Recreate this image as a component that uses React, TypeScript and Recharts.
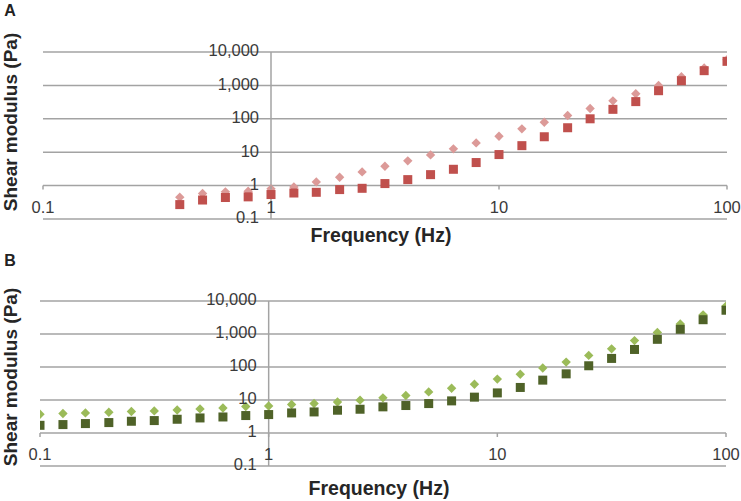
import { ScatterChart, Scatter, XAxis, YAxis, CartesianGrid, ReferenceLine } from "recharts";

// frequency (Hz)
const freqA = [0.398, 0.501, 0.631, 0.794, 1, 1.26, 1.58, 2, 2.51, 3.16, 3.98, 5.01, 6.31, 7.94, 10, 12.6, 15.8, 20, 25.1, 31.6, 39.8, 50.1, 63.1, 79.4, 100];
const freqB = [0.1, 0.126, 0.158, 0.2, 0.251, 0.316, 0.398, 0.501, 0.631, 0.794, 1, 1.26, 1.58, 2, 2.51, 3.16, 3.98, 5.01, 6.31, 7.94, 10, 12.6, 15.8, 20, 25.1, 31.6, 39.8, 50.1, 63.1, 79.4, 100];

// shear modulus (Pa), squares and diamonds
const squaresA = [0.27, 0.37, 0.44, 0.46, 0.54, 0.6, 0.63, 0.76, 0.83, 1.15, 1.51, 2.13, 3.08, 4.9, 8.5, 15.7, 29, 54, 100, 192, 327, 694, 1380, 2760, 5250];
const diamondsA = [0.45, 0.58, 0.65, 0.68, 0.8, 0.91, 1.29, 1.77, 2.57, 3.8, 5.5, 8.3, 12.6, 19, 30, 50, 79, 125, 203, 345, 565, 1000, 1820, 3330, 5900];
const squaresB = [1.71, 1.8, 1.93, 2.07, 2.27, 2.38, 2.61, 2.86, 3.06, 3.38, 3.62, 4.06, 4.35, 4.9, 5.25, 6.2, 6.8, 7.8, 9.4, 12.2, 16.4, 24, 40, 62, 109, 182, 340, 690, 1390, 2710, 5250];
const diamondsB = [3.7, 3.9, 4.06, 4.26, 4.47, 4.67, 5.0, 5.37, 5.75, 6.35, 6.6, 7.3, 7.8, 8.7, 9.9, 11.6, 13.7, 17.6, 22.8, 30, 43, 60, 93, 141, 225, 355, 630, 1120, 2000, 3800, 7000];

const xTicks = [0.1, 1, 10, 100];
const yTicks = [0.1, 1, 10, 100, 1000, 10000];
const xLabels = ["0.1", "1", "10", "100"];
const yLabels = ["0.1", "1", "10", "100", "1,000", "10,000"];

const FONT = "'Liberation Sans', Arial, sans-serif";
const GRID = "#a3a3a3";
const TEXT = "#3a3a3a";

const Square = (props: any) => {
  const { cx, cy, fill } = props;
  return <rect x={cx - 4.5} y={cy - 4.5} width={9} height={9} fill={fill} />;
};

const Diamond = (props: any) => {
  const { cx, cy, fill } = props;
  const r = 4.7;
  return <polygon points={`${cx},${cy - r} ${cx + r},${cy} ${cx},${cy + r} ${cx - r},${cy}`} fill={fill} />;
};

type PanelProps = {
  letter: string;
  top: number;
  height: number;
  margin: { top: number; right: number; bottom: number; left: number };
  xTitleY: number;
  yTitleY: number;
  freq: number[];
  squares: number[];
  diamonds: number[];
  squareColor: string;
  diamondColor: string;
};

function Panel({ letter, top, height, margin, xTitleY, yTitleY, freq, squares, diamonds, squareColor, diamondColor }: PanelProps) {
  const width = 741;
  // axes take 1px each
  const plotW = width - margin.left - margin.right - 1;
  const plotH = height - margin.top - margin.bottom - 1;
  const decY = plotH / (yTicks.length - 1);
  const decX = plotW / (xTicks.length - 1);
  const sq = freq.map((f, i) => ({ f, v: squares[i] }));
  const dm = freq.map((f, i) => ({ f, v: diamonds[i] }));

  // x-axis crosses at y = 1, one decade above the bottom of the plot
  const xTick = (p: any) => {
    const i = xTicks.indexOf(p.payload.value);
    const ay = margin.top + plotH - decY;
    return (
      <g>
        <line x1={p.x} x2={p.x} y1={ay} y2={ay + 4} stroke={GRID} strokeWidth={1.5} />
        <text x={p.x} y={ay + 23} textAnchor="middle" dominantBaseline="middle" fontSize={16.5} fill={TEXT} fontFamily={FONT}>
          {xLabels[i]}
        </text>
      </g>
    );
  };
  // y-axis crosses at x = 1, one decade right of the plot's left edge
  const yTick = (p: any) => {
    const i = yTicks.indexOf(p.payload.value);
    const ax = margin.left + 1 + decX;
    return (
      <text x={ax - 12} y={p.y} textAnchor="end" dominantBaseline="middle" fontSize={16.5} fill={TEXT} fontFamily={FONT}>
        {yLabels[i]}
      </text>
    );
  };

  return (
    <div style={{ position: "absolute", left: 0, top, width, height }}>
      <ScatterChart width={width} height={height} margin={margin}>
        <CartesianGrid horizontal vertical={false} stroke={GRID} strokeWidth={1.5} />
        <XAxis
          dataKey="f"
          type="number"
          scale="log"
          domain={[0.1, 100]}
          ticks={xTicks}
          allowDataOverflow
          height={1}
          axisLine={false}
          tickLine={false}
          tickSize={0}
          tickMargin={0}
          interval={0}
          tick={xTick}
        />
        <YAxis
          dataKey="v"
          type="number"
          scale="log"
          domain={[0.1, 10000]}
          ticks={yTicks}
          allowDataOverflow
          width={1}
          axisLine={false}
          tickLine={false}
          tickSize={0}
          tickMargin={0}
          interval={0}
          tick={yTick}
        />
        <ReferenceLine x={1} stroke={GRID} strokeWidth={1.5} />
        <Scatter data={dm} fill={diamondColor} shape={Diamond} isAnimationActive={false} />
        <Scatter data={sq} fill={squareColor} shape={Square} isAnimationActive={false} />
      </ScatterChart>
      <div style={{ position: "absolute", left: 10, top: 11, transform: "translate(-50%,-50%)", fontFamily: FONT, fontWeight: "bold", fontSize: 16, lineHeight: 1, color: "#222" }}>
        {letter}
      </div>
      <div style={{ position: "absolute", left: 10, top: yTitleY, transform: "translate(-50%,-50%) rotate(-90deg)", whiteSpace: "nowrap", fontFamily: FONT, fontWeight: "bold", fontSize: 19, lineHeight: 1, color: "#262626" }}>
        Shear modulus (Pa)
      </div>
      <div style={{ position: "absolute", left: margin.left + plotW / 2 - 3, top: xTitleY, transform: "translate(-50%,-50%)", whiteSpace: "nowrap", fontFamily: FONT, fontWeight: "bold", fontSize: 19.5, lineHeight: 1, color: "#262626" }}>
        Frequency (Hz)
      </div>
    </div>
  );
}

export default function App() {
  return (
    <div style={{ position: "absolute", left: 0, top: 0, width: 741, height: 501, background: "#fff" }}>
      <Panel
        letter="A"
        top={0}
        height={250}
        margin={{ top: 52, right: 14, bottom: 30, left: 42 }}
        xTitleY={236}
        yTitleY={122}
        freq={freqA}
        squares={squaresA}
        diamonds={diamondsA}
        squareColor="#c0504d"
        diamondColor="#dc9a98"
      />
      <Panel
        letter="B"
        top={250}
        height={251}
        margin={{ top: 51, right: 15, bottom: 34, left: 39 }}
        xTitleY={239}
        yTitleY={127}
        freq={freqB}
        squares={squaresB}
        diamonds={diamondsB}
        squareColor="#4f6228"
        diamondColor="#9bbb59"
      />
    </div>
  );
}
